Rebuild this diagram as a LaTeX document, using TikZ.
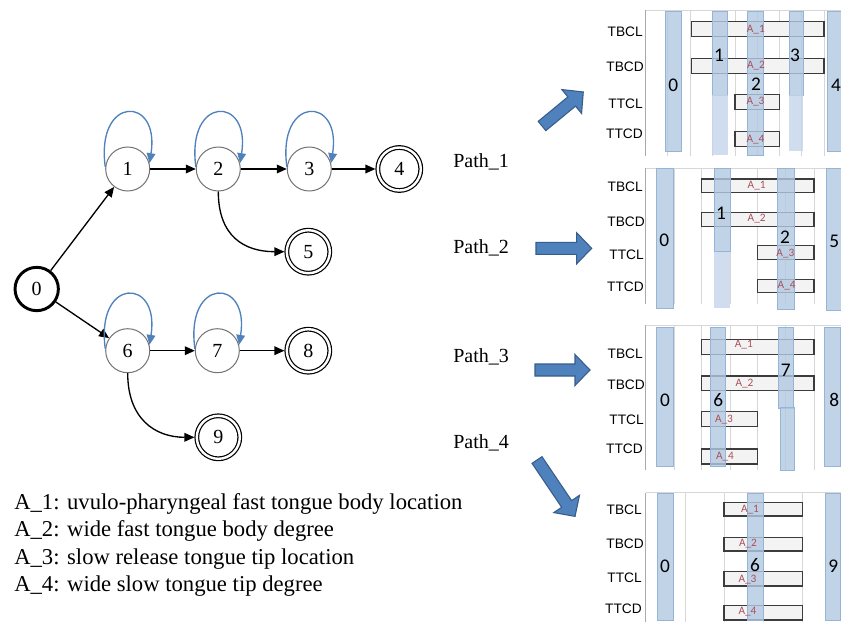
\documentclass[tikz,border=0pt]{standalone}
\usepackage{fontspec}
\setmainfont{Liberation Serif}
\newfontfamily\arialf{Liberation Sans}
\newfontfamily\calf{Carlito}
\usetikzlibrary{arrows.meta}
\definecolor{loopblue}{RGB}{79,129,189}
\definecolor{arrfill}{RGB}{79,129,189}
\definecolor{arrdraw}{RGB}{56,93,138}
\definecolor{barblue}{RGB}{178,200,226}
\definecolor{barlight}{RGB}{196,213,234}
\definecolor{barline}{RGB}{150,180,214}
\definecolor{gridc}{RGB}{215,215,215}
\definecolor{axisc}{RGB}{170,170,170}
\definecolor{aboxfill}{RGB}{243,243,243}
\definecolor{aboxline}{RGB}{60,60,60}
\definecolor{alabc}{RGB}{170,80,88}
\newcommand\blkarrow[4]{\begin{scope}[shift={(#1,#2)},rotate=#3]
\draw[blockarr] (0,-6) -- ({#4-15},-6) -- ({#4-15},-15.5) -- (#4,0) -- ({#4-15},15.5) -- ({#4-15},6) -- (0,6) -- cycle;
\end{scope}}
\tikzset{
  st/.style={circle, draw=black!55, line width=0.75pt, minimum size=33pt, inner sep=0pt, font=\fontsize{15}{15}\selectfont},
  ststart/.style={circle, draw=black, line width=2.2pt, minimum size=32.5pt, inner sep=0pt, font=\fontsize{15}{15}\selectfont},
  stfinal/.style={circle, draw=black, double=white, line width=0.9pt, double distance=1.8pt, minimum size=32.25pt, inner sep=0pt, outer sep=1.8pt, font=\fontsize{15}{15}\selectfont},
  edge/.style={-{Triangle[length=7.5pt,width=6.5pt]}, line width=1pt, black},
  loopedge/.style={-{Triangle[length=7.5pt,width=6.5pt]}, line width=1pt, loopblue},
  blockarr/.style={fill=arrfill, draw=arrdraw, line width=0.8pt, line join=miter},
  pathlab/.style={anchor=west, font=\fontsize{15}{15}\selectfont, inner sep=0pt},
  legend/.style={anchor=base west, font=\fontsize{17}{17}\selectfont, inner sep=0pt},
  rowlab/.style={anchor=east, font=\arialf\fontsize{10.3}{11}\selectfont, inner sep=0pt},
  pnum/.style={font=\calf\fontsize{14.5}{15}\selectfont, inner sep=0pt},
  alab/.style={font=\calf\fontsize{8.5}{9}\selectfont, text=alabc, inner sep=0pt},
  gridl/.style={draw=gridc, line width=0.6pt},
  axisl/.style={draw=axisc, line width=0.7pt},
  abox/.style={draw=aboxline, fill=aboxfill, line width=0.8pt},
  vbar/.style={fill=barblue, fill opacity=0.8, draw=barline, line width=0.6pt},
  vbarlo/.style={fill=barlight, fill opacity=0.8, draw=none},
}
\begin{document}
\begin{tikzpicture}[x=0.75pt,y=-0.75pt]
\useasboundingbox (0,0) rectangle (841,631);
\fill[white] (0,0) rectangle (841,631);

% ---------------- graph ----------------
\node[ststart] (n0) at (36.7,289) {0};
\node[st] (n1) at (127.7,169) {1};
\node[st] (n2) at (218.3,169) {2};
\node[st] (n3) at (309.3,169) {3};
\node[stfinal] (n4) at (399.3,169) {4};
\node[stfinal] (n5) at (308.3,251.7) {5};
\node[st] (n6) at (127.7,350.7) {6};
\node[st] (n7) at (217.3,350.7) {7};
\node[stfinal] (n8) at (308.3,350.7) {8};
\node[stfinal] (n9) at (218.3,437.3) {9};

\draw[edge] (n0) -- (n1);
\draw[edge] (n0) -- (n6);
\draw[edge] (n1) -- (n2);
\draw[edge] (n2) -- (n3);
\draw[edge] (n3) -- (n4);
\draw[edge] (n6) -- (n7);
\draw[edge] (n7) -- (n8);
\draw[edge] (n2.south) .. controls +(0,45) and +(-40,0) .. (n5.west);
\draw[edge] (n6.south) .. controls +(0,45) and +(-40,0) .. (n9.west);

\foreach \n in {n1,n2,n3,n6,n7}{
  \draw[loopedge] (\n.175) .. controls +(-10,-72) and +(11,-68) .. (\n.15);
}

% ---------------- path labels and block arrows ----------------
\node[pathlab] (p1) at (453,161.7) {Path\_1};
\node[pathlab] (p2) at (453,248.3) {Path\_2};
\node[pathlab] (p3) at (453,356.7) {Path\_3};
\node[pathlab] (p4) at (453,443.3) {Path\_4};

\blkarrow{542}{126}{39.5}{53.5}
\blkarrow{536}{248.3}{0}{55.7}
\blkarrow{535}{370}{0}{55}
\blkarrow{537}{460}{-56}{68}

% ---------------- legend ----------------
\node[legend] (l1) at (14,509.5) {A\_1: uvulo-pharyngeal fast tongue body location};
\node[legend] (l2) at (14,536.7) {A\_2: wide fast tongue body degree};
\node[legend] (l3) at (14,564) {A\_3: slow release tongue tip location};
\node[legend] (l4) at (14,591.5) {A\_4: wide slow tongue tip degree};

% ---------------- panel 1 ----------------
\draw[gridl] (645.7,10) -- (841,10);
\foreach \x in {667.7,690,712,735,757.3,779.3,801.7,824}{\draw[gridl] (\x,10) -- (\x,156);}
\draw[axisl] (645.7,10) -- (645.7,156);
\draw[abox] (691.7,21.7) rectangle (824,36.7);
\draw[abox] (691.7,58.3) rectangle (824,73.3);
\draw[abox] (735,94.3) rectangle (779.3,109.3);
\draw[abox] (735,131.7) rectangle (779.3,146.7);
\draw[vbar] (665.7,11.7) rectangle (681,151.7);
\draw[vbar] (712.3,11.7) rectangle (727.7,95);
\fill[vbarlo] (712.3,95) rectangle (727.7,155);
\draw[vbar] (747.7,11.7) rectangle (763.3,155);
\draw[vbar] (789,11.7) rectangle (803.3,95);
\fill[vbarlo] (789,95) rectangle (803.3,151);
\draw[vbar] (827.3,11.7) rectangle (842,151.7);
\node[alab] (a11) at (755.8,29.2) {A\_1};
\node[alab] (a12) at (756,65.8) {A\_2};
\node[alab] (a13) at (755.5,101.8) {A\_3};
\node[alab] (a14) at (755.5,139.2) {A\_4};
\node[pnum] (q10) at (673.3,85) {0};
\node[pnum] (q11) at (719,55) {1};
\node[pnum] (q12) at (756,84) {2};
\node[pnum] (q13) at (795,55) {3};
\node[pnum] (q14) at (836,85) {4};
\node[rowlab] (r11) at (643,31.7) {TBCL};
\node[rowlab] (r12) at (644,66.7) {TBCD};
\node[rowlab] (r13) at (643,103.3) {TTCL};
\node[rowlab] (r14) at (643,133.3) {TTCD};

% ---------------- panel 2 ----------------
\draw[gridl] (645.7,168.3) -- (841,168.3);
\foreach \x in {674,701.7,730,757.7,785.7,814}{\draw[gridl] (\x,168.3) -- (\x,304);}
\draw[axisl] (645.7,168.3) -- (645.7,304);
\draw[abox] (701.7,179) rectangle (814,192.7);
\draw[abox] (701.7,212.3) rectangle (814,226.3);
\draw[abox] (757.7,245.7) rectangle (814,259.3);
\draw[abox] (757.7,279.3) rectangle (814,292.7);
\draw[vbar] (656.7,168.3) rectangle (673.3,308.3);
\draw[vbar] (714,168.3) rectangle (730,251.7);
\fill[vbarlo] (714,251.7) rectangle (730,307.7);
\draw[vbar] (777.7,168.3) rectangle (794.3,309);
\draw[vbar] (826.7,168.3) rectangle (842,310);
\node[alab] (a21) at (756.7,185.7) {A\_1};
\node[alab] (a22) at (756.7,218.3) {A\_2};
\node[alab] (a23) at (785.3,254) {A\_3};
\node[alab] (a24) at (786.7,285.7) {A\_4};
\node[pnum] (q20) at (664.3,240) {0};
\node[pnum] (q21) at (721,213.3) {1};
\node[pnum] (q22) at (785,237) {2};
\node[pnum] (q25) at (834.3,241) {5};
\node[rowlab] (r21) at (643,186.7) {TBCL};
\node[rowlab] (r22) at (645,221.7) {TBCD};
\node[rowlab] (r23) at (644,255) {TTCL};
\node[rowlab] (r24) at (644,286.7) {TTCD};

% ---------------- panel 3 ----------------
\draw[gridl] (645.7,325) -- (841,325);
\foreach \x in {674,701.7,730,757.7,785.7,814}{\draw[gridl] (\x,325) -- (\x,470);}
\draw[axisl] (645.7,325) -- (645.7,470);
\draw[abox] (701.7,339.3) rectangle (814,354.3);
\draw[abox] (701.7,376) rectangle (814,390.7);
\draw[abox] (701.7,411.7) rectangle (757.7,426.7);
\draw[abox] (701.7,449) rectangle (757.7,464);
\draw[vbar] (656.7,327.3) rectangle (673.3,466.7);
\draw[vbar] (710,327.3) rectangle (725.7,466.7);
\draw[vbar] (778.3,327.3) rectangle (793.3,408.3);
\draw[vbar] (780.7,407.3) rectangle (794.3,470.7);
\draw[vbar] (824.3,327.3) rectangle (840,466.7);
\node[alab] (a31) at (743.8,345) {A\_1};
\node[alab] (a32) at (744.5,383.3) {A\_2};
\node[alab] (a33) at (724,420) {A\_3};
\node[alab] (a34) at (725,456.7) {A\_4};
\node[pnum] (q30) at (665,400) {0};
\node[pnum] (q36) at (718.3,400) {6};
\node[pnum] (q37) at (785.7,370) {7};
\node[pnum] (q38) at (834.3,400) {8};
\node[rowlab] (r31) at (643,353.3) {TBCL};
\node[rowlab] (r32) at (645,385) {TBCD};
\node[rowlab] (r33) at (644,420) {TTCL};
\node[rowlab] (r34) at (643,448.3) {TTCD};

% ---------------- panel 4 ----------------
\draw[gridl] (645.7,492.7) -- (841,492.7);
\foreach \x in {685,724,763.3,802.3}{\draw[gridl] (\x,492.7) -- (\x,622);}
\draw[axisl] (645.7,492.7) -- (645.7,622);
\draw[abox] (724,502.7) rectangle (802.3,516);
\draw[abox] (724,537.3) rectangle (802.3,551);
\draw[abox] (724,571.7) rectangle (802.3,586);
\draw[abox] (724,605.7) rectangle (802.3,620);
\draw[vbar] (657.3,493.3) rectangle (673.3,620);
\draw[vbar] (747.7,493.3) rectangle (763.3,620);
\draw[vbar] (825,493.3) rectangle (840,620);
\node[alab] (a41) at (750,509.3) {A\_1};
\node[alab] (a42) at (748,543.3) {A\_2};
\node[alab] (a43) at (747.5,580) {A\_3};
\node[alab] (a44) at (747.5,611.7) {A\_4};
\node[pnum] (q40) at (665,566) {0};
\node[pnum] (q46) at (755,565) {6};
\node[pnum] (q49) at (833.3,566) {9};
\node[rowlab] (r41) at (642,509.3) {TBCL};
\node[rowlab] (r42) at (644,543.3) {TBCD};
\node[rowlab] (r43) at (642,577.3) {TTCL};
\node[rowlab] (r44) at (642,608.3) {TTCD};
\end{tikzpicture}
\end{document}
